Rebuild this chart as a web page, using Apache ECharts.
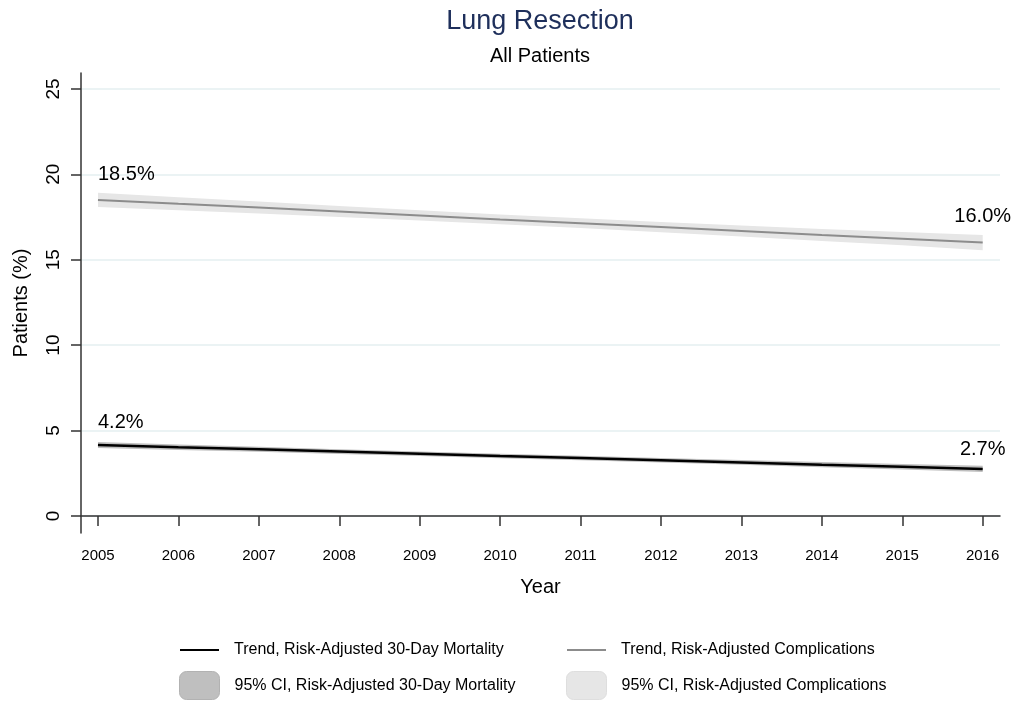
<!DOCTYPE html>
<html>
<head>
<meta charset="utf-8">
<script src="https://cdn.jsdelivr.net/npm/echarts@6/dist/echarts.min.js"></script>
<style>
html,body{margin:0;padding:0;background:#fff;}
#chart{width:1014px;height:703px;}
</style>
</head>
<body>
<div id="chart"></div>
<script>
// ---- data ----
const years = [2005, 2006, 2007, 2008, 2009, 2010, 2011, 2012, 2013, 2014, 2015, 2016];
const mortality = [4.15, 4.02, 3.90, 3.77, 3.64, 3.51, 3.39, 3.26, 3.13, 3.00, 2.88, 2.75];
const mortLow   = [3.97, 3.86, 3.75, 3.63, 3.51, 3.38, 3.26, 3.13, 2.99, 2.85, 2.72, 2.57];
const mortHigh  = [4.33, 4.18, 4.05, 3.91, 3.77, 3.64, 3.52, 3.39, 3.27, 3.15, 3.04, 2.93];
const complications = [18.50, 18.27, 18.05, 17.82, 17.59, 17.36, 17.14, 16.91, 16.68, 16.45, 16.23, 16.00];
const compLow  = [18.08, 17.89, 17.70, 17.50, 17.29, 17.07, 16.85, 16.61, 16.36, 16.10, 15.84, 15.55];
const compHigh = [18.92, 18.65, 18.40, 18.14, 17.89, 17.65, 17.43, 17.21, 17.00, 16.80, 16.62, 16.45];
const yTicks = [0, 5, 10, 15, 20, 25];
const compLabels = ['18.5%', '16.0%'];
const mortLabels = ['4.2%', '2.7%'];
const seriesNames = {
  mortLine: 'Trend, Risk-Adjusted 30-Day Mortality',
  compLine: 'Trend, Risk-Adjusted Complications',
  mortCI: '95% CI, Risk-Adjusted 30-Day Mortality',
  compCI: '95% CI, Risk-Adjusted Complications'
};

// ---- build ----
const FONT = 'Liberation Sans, Arial, Helvetica, sans-serif';
const pairs = (arr) => years.map((y, i) => [y, arr[i]]);
const last = years.length - 1;

// band rows: [year, low, high]
const bandRows = (lo, hi) => years.map((y, i) => [y, lo[i], hi[i]]);

function bandSeries(name, lo, hi, color, z) {
  const rows = bandRows(lo, hi);
  return {
    name: name,
    type: 'custom',
    coordinateSystem: 'cartesian2d',
    data: rows,
    encode: { x: 0, y: [1, 2] },
    itemStyle: { color: color },
    silent: true,
    z: z,
    renderItem: function (params, api) {
      if (params.dataIndex !== 0) return null;
      const upper = rows.map(r => api.coord([r[0], r[2]]));
      const lower = rows.map(r => api.coord([r[0], r[1]])).reverse();
      return {
        type: 'polygon',
        shape: { points: upper.concat(lower) },
        style: { fill: color, stroke: null }
      };
    }
  };
}

const labelData = [
  { value: [years[0], complications[0]], text: compLabels[0], align: 'left', dy: -25 },
  { value: [years[last], complications[last]], text: compLabels[1], align: 'center', dy: -26 },
  { value: [years[0], mortality[0]], text: mortLabels[0], align: 'left', dy: -23 },
  { value: [years[last], mortality[last]], text: mortLabels[1], align: 'center', dy: -19 }
].map(d => ({
  value: d.value,
  label: { formatter: d.text, align: d.align, offset: [0, d.dy] }
}));

const axisColor = '#333333';

const option = {
  backgroundColor: '#ffffff',
  animation: false,
  title: [
    { text: 'Lung Resection', left: 540, top: 8, padding: 0, textAlign: 'center',
      textStyle: { fontFamily: FONT, fontSize: 27, fontWeight: 'normal', color: '#1e2f5b' } },
    { text: 'All Patients', left: 540, top: 46, padding: 0, textAlign: 'center',
      textStyle: { fontFamily: FONT, fontSize: 20, fontWeight: 'normal', color: '#000000' } }
  ],
  grid: { left: 81, right: 14, top: 73, bottom: 170, containLabel: false },
  xAxis: {
    type: 'value',
    min: 2004.789,
    max: 2016.215,
    name: 'Year',
    nameLocation: 'middle',
    nameGap: 44,
    nameTextStyle: { fontFamily: FONT, fontSize: 20, color: '#000' },
    axisLine: { show: true, lineStyle: { color: axisColor, width: 1.5 } },
    axisTick: { show: true, length: 10, lineStyle: { color: axisColor, width: 1.5 }, customValues: years },
    axisLabel: { fontFamily: FONT, fontSize: 15, color: '#000', margin: 15, customValues: years,
      formatter: v => String(v) },
    splitLine: { show: false }
  },
  yAxis: {
    type: 'value',
    min: -1.0,
    max: 25.93,
    name: 'Patients (%)',
    nameLocation: 'middle',
    nameGap: 50,
    nameRotate: 90,
    nameTextStyle: { fontFamily: FONT, fontSize: 20, color: '#000' },
    axisLine: { show: true, lineStyle: { color: axisColor, width: 1.5 } },
    axisTick: { show: true, length: 10, lineStyle: { color: axisColor, width: 1.5 }, customValues: yTicks },
    axisLabel: { fontFamily: FONT, fontSize: 19, color: '#000', rotate: 90, margin: 18, customValues: yTicks },
    splitLine: { show: true, lineStyle: { color: '#e4eff1', width: 1.5 } }
  },
  legend: [
    { data: [{ name: seriesNames.mortLine, icon: 'rect', itemStyle: { color: '#000' } }],
      left: 180, top: 642, padding: 0, itemWidth: 39, itemHeight: 2, selectedMode: false,
      textStyle: { fontFamily: FONT, fontSize: 16, color: '#000', padding: [0, 0, 0, 10] } },
    { data: [{ name: seriesNames.compLine, icon: 'rect', itemStyle: { color: '#8c8c8c' } }],
      left: 567, top: 642, padding: 0, itemWidth: 39, itemHeight: 2, selectedMode: false,
      textStyle: { fontFamily: FONT, fontSize: 16, color: '#000', padding: [0, 0, 0, 10] } },
    { data: [{ name: seriesNames.mortCI, icon: 'roundRect',
        itemStyle: { color: '#bfbfbf', borderColor: '#b2b2b2', borderWidth: 1 } }],
      left: 179, top: 671, padding: 0, itemWidth: 40, itemHeight: 28, selectedMode: false,
      textStyle: { fontFamily: FONT, fontSize: 16, color: '#000', padding: [0, 0, 0, 10] } },
    { data: [{ name: seriesNames.compCI, icon: 'roundRect',
        itemStyle: { color: '#e6e6e6', borderColor: '#dedede', borderWidth: 1 } }],
      left: 566, top: 671, padding: 0, itemWidth: 40, itemHeight: 28, selectedMode: false,
      textStyle: { fontFamily: FONT, fontSize: 16, color: '#000', padding: [0, 0, 0, 10] } }
  ],
  series: [
    bandSeries(seriesNames.compCI, compLow, compHigh, '#e6e6e6', 1),
    { name: seriesNames.compLine, type: 'line', data: pairs(complications), symbol: 'none',
      itemStyle: { color: '#8c8c8c' }, lineStyle: { color: '#8c8c8c', width: 2 }, z: 3 },
    bandSeries(seriesNames.mortCI, mortLow, mortHigh, '#bfbfbf', 2),
    { name: seriesNames.mortLine, type: 'line', data: pairs(mortality), symbol: 'none',
      itemStyle: { color: '#000' }, lineStyle: { color: '#000', width: 2.5 }, z: 4 },
    { name: 'labels', type: 'scatter', data: labelData, symbolSize: 0,
      itemStyle: { color: '#000000', opacity: 1 }, silent: true, z: 5,
      label: { show: true, position: 'inside', verticalAlign: 'middle',
        fontFamily: FONT, fontSize: 20, color: '#000000', opacity: 1, textBorderWidth: 0 } }
  ]
};

const chart = echarts.init(document.getElementById('chart'), null, { renderer: 'canvas' });
chart.setOption(option);
</script>
</body>
</html>
